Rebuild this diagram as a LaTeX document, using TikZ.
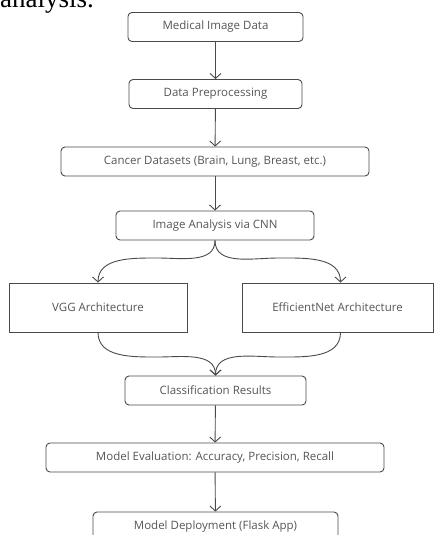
\documentclass[tikz,border=0pt]{standalone}
\usepackage{fontspec}
\setsansfont{Open Sans}
\newfontfamily\capfont{Liberation Serif}
\usetikzlibrary{arrows.meta}
\definecolor{boxline}{HTML}{4A4A4A}
\definecolor{boxtext}{HTML}{555555}
\begin{document}
\begin{tikzpicture}[x=1pt,y=-1pt,
  box/.style={draw=boxline,rounded corners=4pt,line width=0.9pt,text=boxtext,
    font=\sffamily\fontsize{11.5}{13}\selectfont,minimum height=29pt,inner sep=0pt},
  arch/.style={box,rounded corners=0pt,minimum height=49pt},
  arr/.style={draw=boxline,line width=0.9pt,-{Straight Barb[length=5pt,width=11pt]}}]
\useasboundingbox (0,0) rectangle (434,535);
\clip (0,0) rectangle (434,535);
\node[anchor=base west,inner sep=0pt,font=\capfont\fontsize{27}{30}\selectfont] (cap) at (0,8) {analysis.};

\node[box,minimum width=175pt] (md) at (215.5,27) {Medical Image Data};
\node[box,minimum width=173pt] (pre) at (215.5,94) {Data Preprocessing};
\node[box,minimum width=308pt] (cds) at (215,161.5) {Cancer Datasets (Brain, Lung, Breast, etc.)};
\node[box,minimum width=198pt] (cnn) at (215,225.5) {Image Analysis via CNN};
\node[arch,minimum width=178pt] (vgg) at (98,307.5) {VGG Architecture};
\node[arch,minimum width=191pt] (eff) at (337.5,307.5) {EfficientNet Architecture};
\node[box,minimum width=181pt] (cls) at (215.5,390.5) {Classification Results};
\node[box,minimum width=338pt] (eval) at (215,457.5) {Model Evaluation: Accuracy, Precision, Recall};
\node[box,minimum width=245pt] (dep) at (215.5,526.5) {Model Deployment (Flask App)};

\coordinate (sl) at (158,258);
\coordinate (sr) at (278,258);
\coordinate (ml) at (158,357);
\coordinate (mr) at (278,357);

\path (md) edge[arr] (pre);
\path (pre) edge[arr] (cds);
\path (cds) edge[arr] (cnn);

\draw[arr] (cnn.south) to[out=-90,in=0] (sl) to[out=180,in=90] (vgg.north);
\draw[arr] (cnn.south) to[out=-90,in=180] (sr) to[out=0,in=90] ([xshift=3pt]eff.north);
\draw[arr] (vgg.south) to[out=-90,in=180] (ml) to[out=0,in=90] (cls.north);
\draw[arr] ([xshift=3pt]eff.south) to[out=-90,in=0] (mr) to[out=180,in=90] (cls.north);

\path (cls) edge[arr] (eval);
\path (eval) edge[arr] (dep);
\end{tikzpicture}
\end{document}
